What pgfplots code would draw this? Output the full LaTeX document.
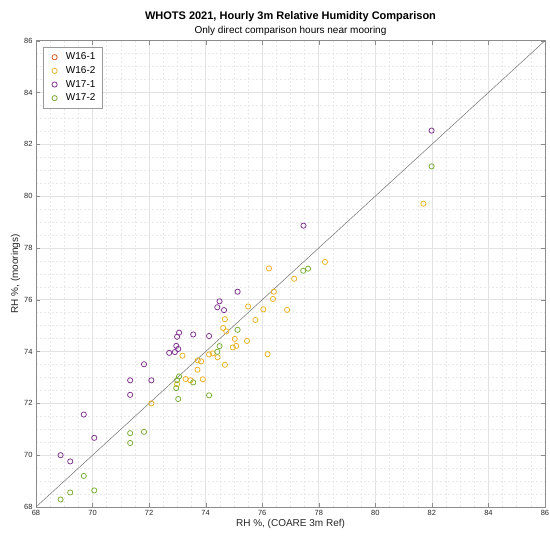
\documentclass[border=0pt]{standalone}
\usepackage{pgfplots}
\pgfplotsset{compat=1.18}
\usepackage{fontspec}
\setmainfont{Liberation Sans}
\definecolor{cA}{rgb}{0.85,0.325,0.098}
\definecolor{cB}{rgb}{0.929,0.694,0.125}
\definecolor{cC}{rgb}{0.494,0.184,0.556}
\definecolor{cD}{rgb}{0.466,0.674,0.188}
\definecolor{axgray}{rgb}{0.15,0.15,0.15}
\begin{document}
\begin{tikzpicture}
\useasboundingbox (-36pt,-31pt) rectangle (514pt,507pt);
\begin{axis}[
  at={(0pt,0pt)}, anchor=south west,
  scale only axis, width=509pt, height=466.3pt,
  xmin=68, xmax=86, ymin=68, ymax=86,
  xtick={68,70,...,86}, ytick={68,70,...,86},
  minor tick num=3,
  grid=both,
  major grid style={color=black!11, line width=0.6pt},
  minor grid style={color=black!9, dash pattern=on 2pt off 2pt, line width=0.5pt},
  axis line style={color=black!45},
  tick style={color=black!45},
  tick align=inside,
  major tick length=4pt, minor tick length=0pt,
  xticklabel style={font=\fontsize{7.5}{8}\selectfont, text=axgray},
  yticklabel style={font=\fontsize{7.5}{8}\selectfont, text=axgray},
  /pgf/number format/assume math mode=true,
  xlabel={RH \%, (COARE 3m Ref)},
  ylabel={RH \%, (moorings)},
  xlabel style={font=\fontsize{10}{12}\selectfont, text=axgray, yshift=3pt},
  ylabel style={font=\fontsize{10}{12}\selectfont, text=axgray, yshift=-3pt},
  title={\textbf{WHOTS 2021, Hourly 3m Relative Humidity Comparison}\\[1pt]{\fontsize{10}{12}\selectfont Only direct comparison hours near mooring}},
  title style={font=\fontsize{11}{13}\selectfont, align=center, yshift=-4pt},
  legend style={at={(0.014,0.987)}, anchor=north west, draw=black!40, font=\fontsize{10}{12}\selectfont, row sep=1.2pt, inner xsep=5pt, inner ysep=4pt, cells={anchor=west}},
  legend cell align=left,
  legend image code/.code={\draw[#1] plot[only marks] coordinates {(0.22cm,0cm)};\path[draw=none] (0cm,0cm) -- (0.55cm,0cm);},
  every axis plot/.append style={only marks, mark=o, mark size=2.6pt, line width=0.75pt},
]
\addlegendimage{only marks, mark=o, mark size=2.6pt, line width=0.75pt, color=cA}
\addlegendentry{W16-1}
\addplot[color=cB] coordinates {
(72.08,72.00) (73.18,73.84) (72.99,72.74) (73.29,72.94) (73.46,72.89)
(73.71,73.30) (73.72,73.66) (73.84,73.62) (73.90,72.93) (74.12,73.89)
(74.25,73.93) (74.42,73.78) (74.68,73.49) (74.62,74.91) (74.73,74.78)
(74.68,75.25) (75.03,74.49) (74.96,74.16) (75.08,74.22) (75.46,74.41)
(75.50,75.74) (75.76,75.22) (76.04,75.63) (76.19,73.90) (76.24,77.21)
(76.41,76.31) (76.38,76.03) (76.88,75.61) (77.13,76.81) (78.22,77.46)
(81.70,79.71)
};
\addlegendentry{W16-2}
\addplot[color=cC] coordinates {
(68.87,70.00) (69.21,69.76) (69.69,71.57) (70.06,70.67) (71.33,72.89)
(71.33,72.33) (71.82,73.51) (72.08,72.89) (72.71,73.95) (72.91,73.98)
(72.96,74.22) (73.03,74.10) (72.99,74.57) (73.06,74.73) (73.56,74.66)
(74.12,74.60) (74.49,75.94) (74.41,75.71) (74.65,75.60) (75.13,76.31)
(77.46,78.86) (81.99,82.53)
};
\addlegendentry{W17-1}
\addplot[color=cD] coordinates {
(68.87,68.29) (69.21,68.56) (69.69,69.20) (70.06,68.64) (71.33,70.85)
(71.33,70.47) (71.82,70.90) (73.06,73.04) (72.99,72.90) (72.96,72.59)
(73.03,72.17) (73.56,72.81) (74.12,72.31) (74.41,73.99) (74.49,74.21)
(75.13,74.84) (77.45,77.12) (77.62,77.20) (81.99,81.15)
};
\addlegendentry{W17-2}
\addplot[no marks, sharp plot, color=black!55, line width=0.5pt, forget plot] coordinates {(68,68) (86,86)};
\end{axis}
\end{tikzpicture}
\end{document}
